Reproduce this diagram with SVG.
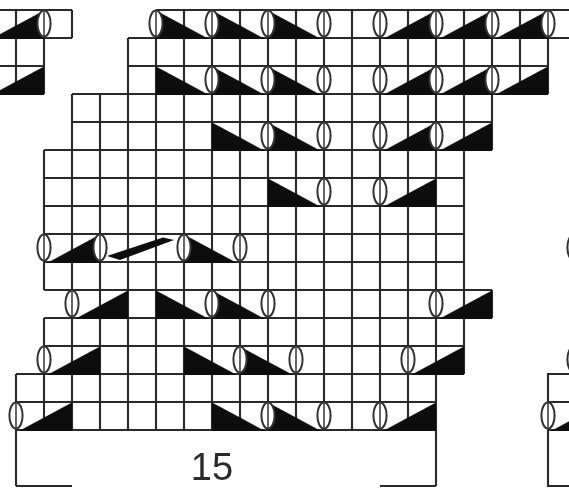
<svg xmlns="http://www.w3.org/2000/svg" width="569" height="488" viewBox="0 0 569 488">
<style>
.g{stroke:#2a2a2a;stroke-width:2.1;fill:none}
.f{fill:#0c0c0c;stroke:none}
.e{fill:#fff;stroke:#333;stroke-width:2}
.v{stroke:#555;stroke-width:1.8}
text{font-family:"Liberation Sans",Arial,sans-serif;font-size:38px;fill:#2a2a2a}
</style>
<defs>
<filter id="b" filterUnits="userSpaceOnUse" x="0" y="0" width="569" height="488"><feGaussianBlur stdDeviation="0.45"/></filter>
<polygon id="r" class="f" points="3,29 56,0.5 56,29"/>
<polygon id="d" class="f" points="0,0.5 0,29 53,29"/>
<g id="o"><ellipse class="e" cx="0" cy="13.5" rx="6.6" ry="13"/><line class="v" x1="0" y1="1" x2="0" y2="26"/></g>
</defs>
<rect width="569" height="488" fill="#fff"/>
<g filter="url(#b)">
<g id="grid" class="g">
<path d="M156 10H569M128 38H569M128 66H548M128 94H548M72 94H128M72 122H492M44 150H492M44 178H464M44 206H464M44 234H464M44 262H464M44 290H492M44 318H492M44 346H464M16 374H464M16 402H436M16 430H436"/>
<path d="M44 150V290M44 318V430M16 374V486M72 94V430M100 94V430M128 38V430M156 10V430M184 10V430M212 10V430M240 10V430M268 10V430M296 10V430M324 10V430M352 10V430M380 10V430M408 10V430M436 10V486M464 10V374M492 10V150M492 290V318M520 10V94M548 10V94"/>
<path d="M16 486H72M380 486H436"/>
<path d="M0 10H72M0 38H72M0 66H44M0 94H44M16 10V94M44 10V94M72 10V38"/>
<path d="M569 374H548V486H569M548 402H569M548 430H569"/>
</g>
<g id="wedges">
<use href="#r" x="-12" y="10"/><use href="#r" x="-12" y="66"/>
<use href="#d" x="156" y="10"/><use href="#d" x="212" y="10"/><use href="#d" x="268" y="10"/>
<use href="#r" x="380" y="10"/><use href="#r" x="436" y="10"/><use href="#r" x="492" y="10"/>
<use href="#d" x="156" y="66"/><use href="#d" x="212" y="66"/><use href="#d" x="268" y="66"/>
<use href="#r" x="380" y="66"/><use href="#r" x="436" y="66"/><use href="#r" x="492" y="66"/>
<use href="#d" x="212" y="122"/><use href="#d" x="268" y="122"/>
<use href="#r" x="380" y="122"/><use href="#r" x="436" y="122"/>
<use href="#d" x="268" y="178"/><use href="#r" x="380" y="178"/>
<use href="#r" x="44" y="234"/><use href="#d" x="184" y="234"/>
<polygon class="f" points="107,256 163,237.5 174,240 120,260"/>
<use href="#r" x="72" y="290"/><use href="#d" x="156" y="290"/><use href="#d" x="212" y="290"/><use href="#r" x="436" y="290"/>
<use href="#r" x="44" y="346"/><use href="#d" x="184" y="346"/><use href="#d" x="240" y="346"/><use href="#r" x="408" y="346"/>
<use href="#r" x="16" y="402"/><use href="#d" x="212" y="402"/><use href="#d" x="268" y="402"/><use href="#r" x="380" y="402"/>
<use href="#r" x="548" y="402"/>
</g>
<g id="loops">
<use href="#o" x="44" y="10"/>
<use href="#o" x="156" y="10"/><use href="#o" x="212" y="10"/><use href="#o" x="268" y="10"/><use href="#o" x="324" y="10"/><use href="#o" x="380" y="10"/><use href="#o" x="436" y="10"/><use href="#o" x="492" y="10"/><use href="#o" x="548" y="10"/>
<use href="#o" x="212" y="66"/><use href="#o" x="268" y="66"/><use href="#o" x="324" y="66"/><use href="#o" x="380" y="66"/><use href="#o" x="436" y="66"/><use href="#o" x="492" y="66"/>
<use href="#o" x="268" y="122"/><use href="#o" x="324" y="122"/><use href="#o" x="380" y="122"/><use href="#o" x="436" y="122"/>
<use href="#o" x="324" y="178"/><use href="#o" x="380" y="178"/>
<use href="#o" x="44" y="234"/><use href="#o" x="100" y="234"/><use href="#o" x="184" y="234"/><use href="#o" x="240" y="234"/>
<use href="#o" x="72" y="290"/><use href="#o" x="212" y="290"/><use href="#o" x="268" y="290"/><use href="#o" x="436" y="290"/>
<use href="#o" x="44" y="346"/><use href="#o" x="240" y="346"/><use href="#o" x="296" y="346"/><use href="#o" x="408" y="346"/>
<use href="#o" x="16" y="402"/><use href="#o" x="268" y="402"/><use href="#o" x="324" y="402"/><use href="#o" x="380" y="402"/>
<use href="#o" x="548" y="402"/>
<use href="#o" x="574" y="234"/><use href="#o" x="574" y="346"/>
</g>
<text id="label" x="212" y="480" text-anchor="middle">15</text>
</g>
</svg>
